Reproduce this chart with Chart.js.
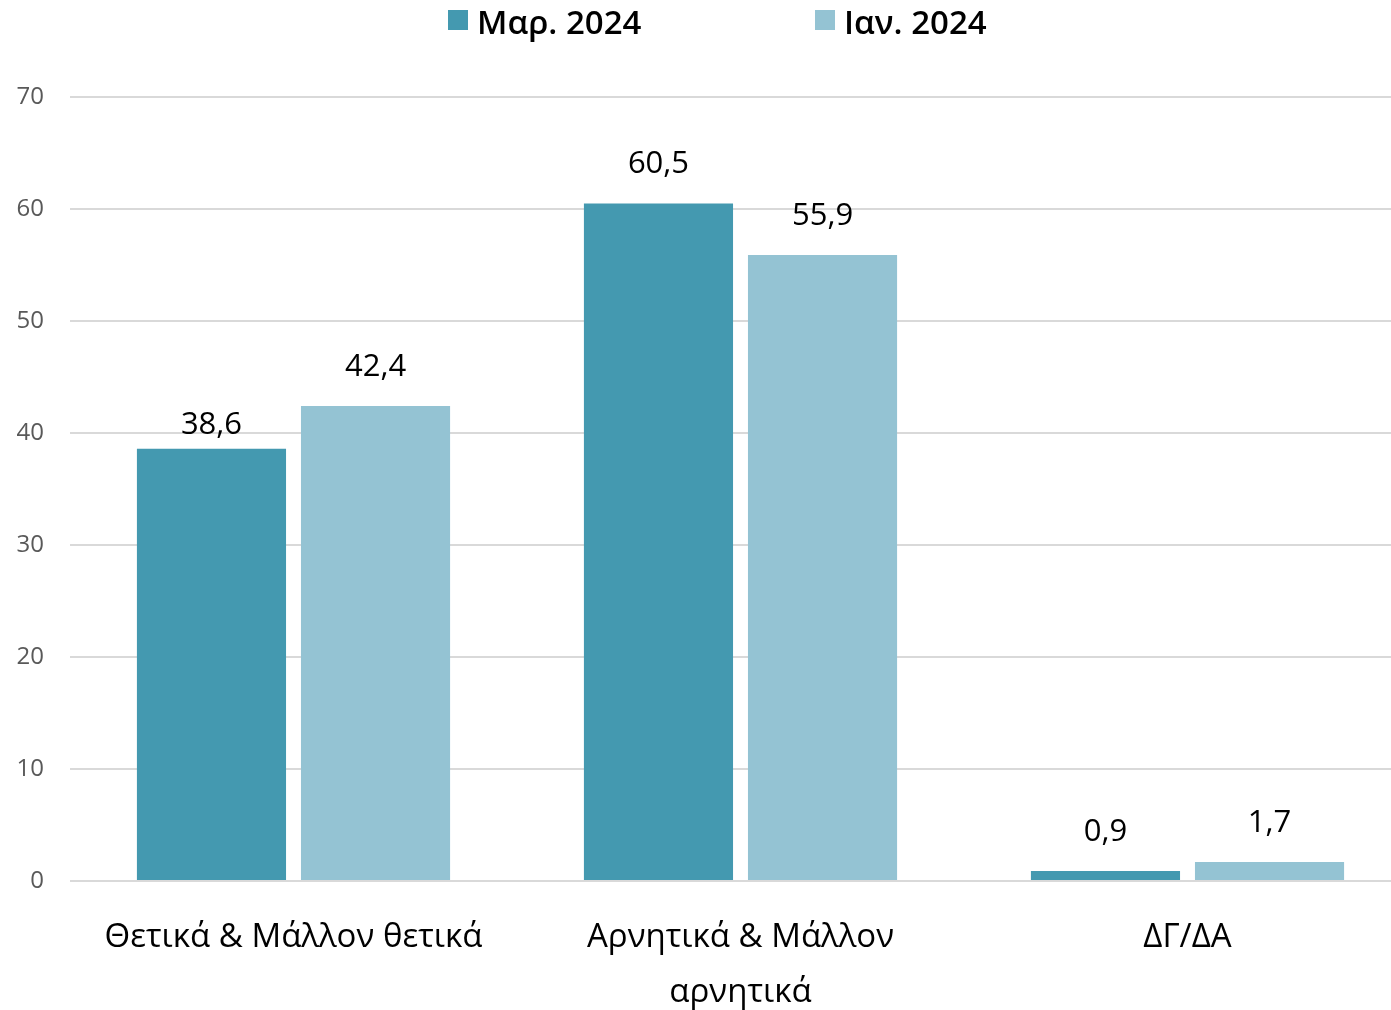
<!DOCTYPE html>
<html>
<head>
<meta charset="utf-8">
<script src="https://cdn.jsdelivr.net/npm/chart.js@4.4.1/dist/chart.umd.min.js"></script>
<style>
  html, body { margin: 0; padding: 0; background: #fff; overflow: hidden; }
  /* o gráfico original está cortado à direita */
  #wrap { width: 1411px; height: 1010px; }
</style>
</head>
<body>
<div id="wrap"><canvas id="grafico"></canvas></div>
<script>
const categorias = [
  ["Θετικά & Μάλλον θετικά"],
  ["Αρνητικά & Μάλλον", "αρνητικά"],
  ["ΔΓ/ΔΑ"]
];
const serieNomes = ["Μαρ. 2024", "Ιαν. 2024"];
const valoresMar = [38.6, 60.5, 0.9];
const valoresIan = [42.4, 55.9, 1.7];
const cores = ["#4499b0", "#94c3d3"];

const FONTE = "'Open Sans', 'Noto Sans', sans-serif";

// rótulos de valor acima das barras
const rotulosPlugin = {
  id: "rotulos",
  afterDatasetsDraw(chart) {
    const ctx = chart.ctx;
    ctx.save();
    ctx.font = "31px " + FONTE;
    ctx.fillStyle = "#000";
    ctx.textAlign = "center";
    ctx.textBaseline = "middle";
    chart.data.datasets.forEach((ds, i) => {
      chart.getDatasetMeta(i).data.forEach((bar, j) => {
        const txt = ds.data[j].toFixed(1).replace(".", ",");
        // o primeiro rótulo fica mais baixo no original
        const desloc = (i === 0 && j === 0) ? 24 : 39;
        ctx.fillText(txt, bar.x, bar.y - desloc);
      });
    });
    ctx.restore();
  }
};

// legenda desenhada à mão (espaçamento largo entre itens)
const legendaPlugin = {
  id: "legenda",
  afterDraw(chart) {
    const ctx = chart.ctx;
    const posicoes = [448, 815];
    ctx.save();
    ctx.font = "600 33px " + FONTE;
    ctx.textBaseline = "middle";
    ctx.textAlign = "left";
    serieNomes.forEach((nome, i) => {
      ctx.fillStyle = cores[i];
      ctx.fillRect(posicoes[i], 10, 20, 20);
      ctx.fillStyle = "#000";
      ctx.fillText(nome, posicoes[i] + 29, 25);
    });
    ctx.restore();
  }
};

new Chart(document.getElementById("grafico").getContext("2d"), {
  type: "bar",
  data: {
    labels: categorias,
    datasets: [
      { label: serieNomes[0], data: valoresMar, backgroundColor: cores[0] },
      { label: serieNomes[1], data: valoresIan, backgroundColor: cores[1] }
    ]
  },
  options: {
    responsive: true,
    maintainAspectRatio: false,
    animation: false,
    categoryPercentage: 0.734,
    barPercentage: 0.909,
    layout: { padding: { top: 97, left: 0, right: 0, bottom: 0 } },
    plugins: {
      legend: { display: false },
      tooltip: { enabled: false }
    },
    scales: {
      x: {
        grid: { display: false },
        border: { display: false },
        afterFit(scale) { scale.height = 129; },
        ticks: {
          color: "#000",
          font: { family: FONTE, size: 33, lineHeight: 1.67 },
          maxRotation: 0,
          autoSkip: false,
          padding: 21
        }
      },
      y: {
        min: 0,
        max: 70,
        afterFit(scale) { scale.width = 70; },
        ticks: {
          stepSize: 10,
          color: "#595959",
          font: { family: FONTE, size: 24 },
          padding: 26
        },
        grid: { color: "#d9d9d9", lineWidth: 2, drawTicks: false },
        border: { display: false }
      }
    }
  },
  plugins: [rotulosPlugin, legendaPlugin]
});
</script>
</body>
</html>
